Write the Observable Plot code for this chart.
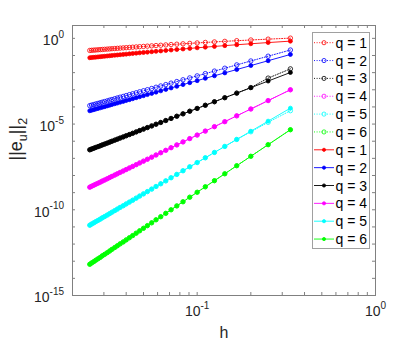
<!DOCTYPE html>
<html><head><meta charset="utf-8">
<script src="https://cdn.jsdelivr.net/npm/d3@7"></script>
<script src="https://cdn.jsdelivr.net/npm/@observablehq/plot@0.6"></script>
<style>
html,body{margin:0;padding:0;background:#fff;}
#chart{width:415px;height:346px;}
</style></head><body><div id="chart"></div>
<script>
// mesh sizes h (N = 3 ... 40)
const h = [0.3333,0.25,0.2,0.1667,0.1429,0.125,0.1111,0.1,0.0909,0.0833,0.0769,0.0714,0.0667,0.0625,0.0588,0.0556,0.0526,0.05,0.0476,0.0455,0.0435,0.0417,0.04,0.0385,0.037,0.0357,0.0345,0.0333,0.0323,0.0313,0.0303,0.0294,0.0286,0.0278,0.027,0.0263,0.0256,0.025];

// first set (dotted, open circles)
const q1Dotted = [1.03,0.899,0.804,0.730,0.668,0.619,0.577,0.541,0.509,0.481,0.456,0.435,0.414,0.396,0.380,0.365,0.351,0.338,0.327,0.316,0.305,0.295,0.286,0.278,0.270,0.262,0.255,0.249,0.242,0.236,0.230,0.225,0.220,0.215,0.210,0.205,0.201,0.197];
const q2Dotted = [0.209,0.0910,0.0479,0.0283,0.0181,0.0123,0.00879,0.00647,0.00493,0.00383,0.00303,0.00245,0.00201,0.00167,0.00141,0.00119,0.00101,8.77e-4,7.62e-4,6.67e-4,5.85e-4,5.19e-4,4.60e-4,4.11e-4,3.70e-4,3.33e-4,3.01e-4,2.72e-4,2.48e-4,2.26e-4,2.06e-4,1.90e-4,1.75e-4,1.61e-4,1.49e-4,1.37e-4,1.28e-4,1.19e-4];
const q3Dotted = [0.0166,0.00479,0.00135,6.40e-4,3.45e-4,2.01e-4,1.25e-4,8.18e-5,5.61e-5,3.95e-5,2.86e-5,2.13e-5,1.61e-5,1.24e-5,9.79e-6,7.78e-6,6.24e-6,5.09e-6,4.19e-6,3.48e-6,2.90e-6,2.45e-6,2.08e-6,1.78e-6,1.53e-6,1.32e-6,1.15e-6,1.00e-6,8.81e-7,7.74e-7,6.81e-7,6.10e-7,5.40e-7,4.83e-7,4.33e-7,3.87e-7,3.50e-7,3.16e-7];
const q4Dotted = [1.00e-3,2.34e-4,7.57e-5,3.02e-5,1.38e-5,7.05e-6,3.90e-6,2.28e-6,1.42e-6,9.10e-7,6.07e-7,4.18e-7,2.94e-7,2.13e-7,1.57e-7,1.17e-7,8.89e-8,6.89e-8,5.40e-8,4.28e-8,3.39e-8,2.75e-8,2.23e-8,1.83e-8,1.52e-8,1.26e-8,1.06e-8,8.89e-9,7.55e-9,6.43e-9,5.46e-9,4.74e-9,4.08e-9,3.55e-9,3.08e-9,2.69e-9,2.36e-9,2.08e-9];
const q5Dotted = [6.03e-5,1.26e-5,3.55e-6,1.27e-6,4.97e-7,2.21e-7,1.08e-7,5.69e-8,3.21e-8,1.89e-8,1.16e-8,7.40e-9,4.86e-9,3.29e-9,2.29e-9,1.61e-9,1.15e-9,8.47e-10,6.32e-10,4.78e-10,3.61e-10,2.81e-10,2.19e-10,1.72e-10,1.38e-10,1.10e-10,8.93e-11,7.24e-11,5.96e-11,4.90e-11,4.03e-11,3.40e-11,2.84e-11,2.40e-11,2.03e-11,1.72e-11,1.47e-11,1.26e-11];
const q6Dotted = [4.68e-6,6.28e-7,1.32e-7,3.72e-8,1.26e-8,4.98e-9,2.19e-9,1.05e-9,5.42e-10,2.94e-10,1.68e-10,1.00e-10,6.19e-11,3.95e-11,2.61e-11,1.74e-11,1.19e-11,8.32e-12,5.94e-12,4.31e-12,3.12e-12,2.34e-12,1.75e-12,1.33e-12,1.03e-12,7.96e-13,6.27e-13,4.92e-13,3.93e-13,3.14e-13,2.51e-13,2.07e-13,1.67e-13,1.38e-13,1.14e-13,9.40e-14,7.89e-14,6.61e-14];

// second set (solid, filled dots)
const q1Solid = [0.687,0.568,0.484,0.424,0.376,0.338,0.307,0.281,0.259,0.240,0.223,0.209,0.196,0.185,0.175,0.166,0.157,0.150,0.143,0.137,0.131,0.125,0.120,0.116,0.111,0.107,0.104,0.100,0.0966,0.0935,0.0904,0.0879,0.0851,0.0826,0.0802,0.0778,0.0759,0.0738];
const q2Solid = [0.115,0.0495,0.0258,0.0152,0.00968,0.00656,0.00466,0.00341,0.00259,0.00201,0.00159,0.00128,0.00105,8.67e-4,7.28e-4,6.15e-4,5.24e-4,4.52e-4,3.92e-4,3.43e-4,3.00e-4,2.65e-4,2.36e-4,2.10e-4,1.88e-4,1.69e-4,1.53e-4,1.38e-4,1.26e-4,1.15e-4,1.04e-4,9.62e-5,8.81e-5,8.13e-5,7.50e-5,6.92e-5,6.43e-5,5.97e-5];
const q3Solid = [0.0102,0.00323,0.00132,6.35e-4,3.43e-4,2.00e-4,1.25e-4,8.18e-5,5.61e-5,3.95e-5,2.86e-5,2.13e-5,1.61e-5,1.24e-5,9.79e-6,7.78e-6,6.24e-6,5.09e-6,4.19e-6,3.48e-6,2.90e-6,2.45e-6,2.08e-6,1.78e-6,1.53e-6,1.32e-6,1.15e-6,1.00e-6,8.81e-7,7.74e-7,6.81e-7,6.10e-7,5.40e-7,4.83e-7,4.33e-7,3.87e-7,3.50e-7,3.16e-7];
const q4Solid = [1.00e-3,2.34e-4,7.57e-5,3.02e-5,1.38e-5,7.05e-6,3.90e-6,2.28e-6,1.42e-6,9.10e-7,6.07e-7,4.18e-7,2.94e-7,2.13e-7,1.57e-7,1.17e-7,8.89e-8,6.89e-8,5.40e-8,4.28e-8,3.39e-8,2.75e-8,2.23e-8,1.83e-8,1.52e-8,1.26e-8,1.06e-8,8.89e-9,7.55e-9,6.43e-9,5.46e-9,4.74e-9,4.08e-9,3.55e-9,3.08e-9,2.69e-9,2.36e-9,2.08e-9];
const q5Solid = [8.51e-5,1.48e-5,3.82e-6,1.27e-6,4.97e-7,2.21e-7,1.08e-7,5.69e-8,3.21e-8,1.89e-8,1.16e-8,7.40e-9,4.86e-9,3.29e-9,2.29e-9,1.61e-9,1.15e-9,8.47e-10,6.32e-10,4.78e-10,3.61e-10,2.81e-10,2.19e-10,1.72e-10,1.38e-10,1.10e-10,8.93e-11,7.24e-11,5.96e-11,4.90e-11,4.03e-11,3.40e-11,2.84e-11,2.40e-11,2.03e-11,1.72e-11,1.47e-11,1.26e-11];
const q6Solid = [4.68e-6,6.28e-7,1.32e-7,3.72e-8,1.26e-8,4.98e-9,2.19e-9,1.05e-9,5.42e-10,2.94e-10,1.68e-10,1.00e-10,6.19e-11,3.95e-11,2.61e-11,1.74e-11,1.19e-11,8.32e-12,5.94e-12,4.31e-12,3.12e-12,2.34e-12,1.75e-12,1.33e-12,1.03e-12,7.96e-13,6.27e-13,4.92e-13,3.93e-13,3.14e-13,2.51e-13,2.07e-13,1.67e-13,1.38e-13,1.14e-13,9.40e-14,7.89e-14,6.61e-14];

const qLabels = ["q = 1","q = 2","q = 3","q = 4","q = 5","q = 6"];
const qColors = ["#ff0000","#0000ff","#000000","#ff00ff","#00ffff","#00ff00"];

const xTickValues = [0.1, 1];
const xTickLabels = ["10^-1", "10^0"];
const yTickValues = [1, 1e-5, 1e-10, 1e-15];
const yTickLabels = ["10^0", "10^-5", "10^-10", "10^-15"];
const xMinorTicks = [0.03,0.04,0.05,0.06,0.07,0.08,0.09,0.1,0.2,0.3,0.4,0.5,0.6,0.7,0.8,0.9];
const yMinorTicks = [1e-14,1e-13,1e-12,1e-11,1e-10,1e-9,1e-8,1e-7,1e-6,1e-5,1e-4,1e-3,1e-2,1e-1,1];
const xLabel = "h";
const yLabel = "||e_u||_2";

const series = [
  {label: qLabels[0], color: qColors[0], dotted: true,  values: q1Dotted},
  {label: qLabels[1], color: qColors[1], dotted: true,  values: q2Dotted},
  {label: qLabels[2], color: qColors[2], dotted: true,  values: q3Dotted},
  {label: qLabels[3], color: qColors[3], dotted: true,  values: q4Dotted},
  {label: qLabels[4], color: qColors[4], dotted: true,  values: q5Dotted},
  {label: qLabels[5], color: qColors[5], dotted: true,  values: q6Dotted},
  {label: qLabels[0], color: qColors[0], dotted: false, values: q1Solid},
  {label: qLabels[1], color: qColors[1], dotted: false, values: q2Solid},
  {label: qLabels[2], color: qColors[2], dotted: false, values: q3Solid},
  {label: qLabels[3], color: qColors[3], dotted: false, values: q4Solid},
  {label: qLabels[4], color: qColors[4], dotted: false, values: q5Solid},
  {label: qLabels[5], color: qColors[5], dotted: false, values: q6Solid}
];

const W = 415, H = 346;
const mL = 72, mR = 40, mT = 25, mB = 51;
const plotW = W - mL - mR, plotH = H - mT - mB;
const axisColor = "#808080";
const textColor = "#262626";
const FONT = "'Liberation Sans', Arial, Helvetica, sans-serif";

const dataMarks = series.flatMap(s => {
  const rows = s.values.map((v, j) => ({h: h[j], e: v}));
  return [
    Plot.line(rows, {x: "h", y: "e", stroke: s.color, strokeWidth: 0.9,
      strokeDasharray: s.dotted ? "1,1.6" : null}),
    Plot.dot(rows, {x: "h", y: "e", r: s.dotted ? 2.2 : 2.0, stroke: s.color,
      strokeWidth: 0.8, fill: s.dotted ? "none" : s.color})
  ];
});

const chart = Plot.plot({
  width: W, height: H,
  marginLeft: mL, marginRight: mR, marginTop: mT, marginBottom: mB,
  style: {fontFamily: FONT, background: "#fff", color: textColor},
  x: {type: "log", domain: [0.02, 1], axis: null},
  y: {type: "log", domain: [1e-15, 5.62], axis: null},
  marks: [
    ...dataMarks,
    // inward ticks (bottom, top, left, right)
    Plot.tickX(xMinorTicks, {x: d => d, stroke: axisColor, insetTop: plotH - 3}),
    Plot.tickX(xMinorTicks, {x: d => d, stroke: axisColor, insetBottom: plotH - 3}),
    Plot.tickY(yMinorTicks, {y: d => d, stroke: axisColor, insetRight: plotW - 3}),
    Plot.tickY(yMinorTicks, {y: d => d, stroke: axisColor, insetLeft: plotW - 3}),
    Plot.frame({stroke: axisColor}),
    Plot.text(xTickValues, {x: d => d, text: (d, i) => xTickLabels[i], frameAnchor: "bottom",
      dy: 20.5, textAnchor: "middle", fontSize: 14, fill: textColor}),
    Plot.text(yTickValues, {y: d => d, text: (d, i) => yTickLabels[i], frameAnchor: "left",
      dx: -8.5, dy: 2.5, textAnchor: "end", fontSize: 14, fill: textColor}),
    Plot.text([xLabel], {text: d => d, frameAnchor: "bottom", dy: 42, fontSize: 16, fill: textColor}),
    Plot.text([yLabel], {text: d => d, frameAnchor: "left", dx: -56, rotate: -90, fontSize: 18,
      fill: textColor})
  ]
});

// superscripts for tick labels, subscripts for the y label
const root = d3.select(chart);
root.selectAll("text").each(function() {
  const s = this.textContent;
  const t = d3.select(this);
  if (s === yLabel) {
    t.text("||e");
    t.append("tspan").attr("dy", "4.5").attr("font-size", "12.5px").text("u");
    t.append("tspan").attr("dy", "-4.5").text("||");
    t.append("tspan").attr("dy", "4.5").attr("font-size", "12.5px").text("2");
  } else if (s.includes("^")) {
    const [b, e] = s.split("^");
    t.text(b);
    t.append("tspan").attr("dy", "-7.5").attr("font-size", "10px").text(e);
  }
});

// legend (MATLAB style box)
const lg = root.append("g").attr("font-family", FONT).attr("font-size", 14).attr("text-anchor", "start");
const lx = 312.5, ly = 32.5, lw = 57, lh = 216;
lg.append("rect").attr("x", lx).attr("y", ly).attr("width", lw).attr("height", lh)
  .attr("fill", "#fff").attr("stroke", "#a0a0a0").attr("stroke-width", 1);
series.forEach((s, i) => {
  const y = 42.7 + 17.85 * i;
  lg.append("line").attr("x1", 314).attr("x2", 334).attr("y1", y).attr("y2", y)
    .attr("stroke", s.color).attr("stroke-width", 0.9)
    .attr("stroke-dasharray", s.dotted ? "1,1.6" : null);
  lg.append("circle").attr("cx", 324).attr("cy", y).attr("r", s.dotted ? 2.1 : 1.6)
    .attr("stroke", s.color).attr("stroke-width", 0.8).attr("fill", s.dotted ? "none" : s.color);
  lg.append("text").attr("x", 335.5).attr("y", y).attr("dy", "0.36em")
    .attr("text-anchor", "start").attr("fill", "#000").text(s.label);
});

document.getElementById("chart").appendChild(chart);
</script>
</body></html>
